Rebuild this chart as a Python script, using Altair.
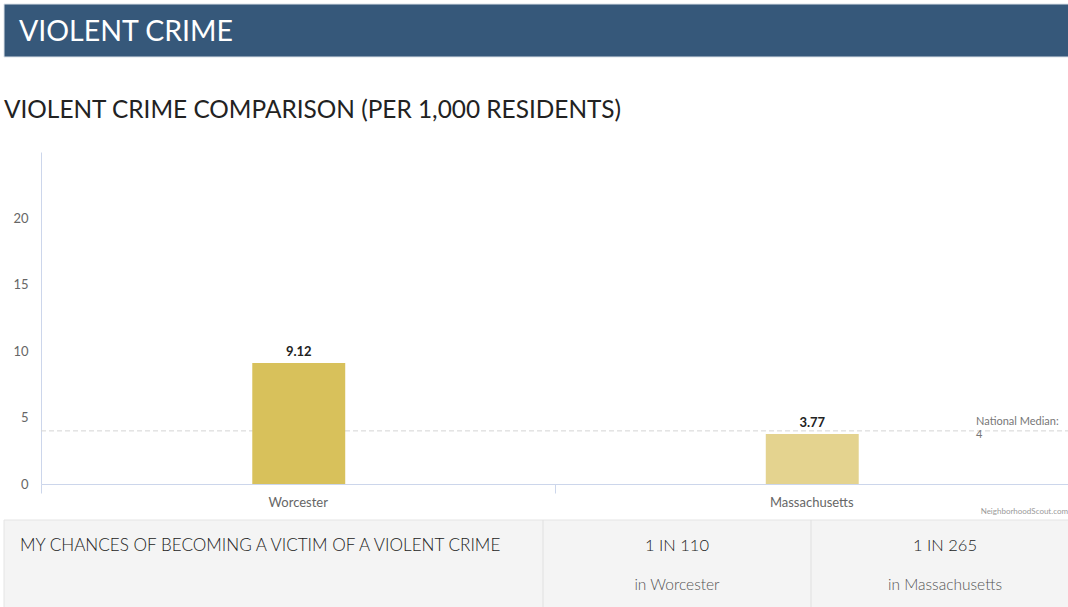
import altair as alt
import pandas as pd

# ---- data ----
categories = ["Worcester", "Massachusetts"]
violent_rates = [9.12, 3.77]
bar_colors = ["#D8C15B", "#E4D38F"]
national_median = [4]
y_ticks = [0, 5, 10, 15, 20]
chance_labels = ["1 IN 110", "1 IN 265"]
place_labels = ["in Worcester", "in Massachusetts"]
header_text = "VIOLENT CRIME"
title_text = "VIOLENT CRIME COMPARISON (PER 1,000 RESIDENTS)"
table_question = "MY CHANCES OF BECOMING A VICTIM OF A VIOLENT CRIME"
median_label = "National Median:\n4"
credit_text = "NeighborhoodScout.com"

FONT = "Lato"

# ---- layout constants ----
PL, PT = 41, 152
W, H = 1027, 332
TOTAL_W, TOTAL_H = 1068, 607

bars_df = pd.DataFrame({"place": categories, "rate": violent_rates})
one = pd.DataFrame({"k": [0]})

x_enc = alt.X("place:N", sort=categories,
              scale=alt.Scale(paddingInner=0, paddingOuter=0),
              axis=alt.Axis(title=None, labelAngle=0, tickBand="extent",
                            domainColor="#ccd6eb", tickColor="#ccd6eb", tickSize=9,
                            labelPadding=3, labelColor="#666666", labelFontSize=13,
                            labelFont=FONT))
y_enc = alt.Y("rate:Q", scale=alt.Scale(domain=[0, 25], nice=False),
              axis=alt.Axis(title=None, values=y_ticks, ticks=False, grid=False,
                            domainColor="#ccd6eb", labelPadding=13,
                            labelColor="#666666", labelFontSize=13, labelFont=FONT))

bars = alt.Chart(bars_df).mark_bar(width=alt.RelativeBandSize(0.181), xOffset=1).encode(
    x=x_enc, y=y_enc,
    color=alt.Color("place:N", scale=alt.Scale(domain=categories, range=bar_colors), legend=None),
)

values = alt.Chart(bars_df).mark_text(
    baseline="bottom", dy=-4, dx=1, font=FONT, fontSize=13, fontWeight="bold", color="#222222"
).encode(x=alt.X("place:N", sort=categories), y="rate:Q", text=alt.Text("rate:Q", format=".2f"))

median_df = pd.DataFrame({"median": national_median})
median_rule = alt.Chart(median_df).mark_rule(
    color="#d4d4d4", strokeDash=[5, 3], strokeWidth=1
).encode(y="median:Q", x=alt.value(0), x2=alt.value(W))

median_text = alt.Chart(median_df).mark_text(
    align="left", baseline="top", dy=-15, font=FONT, fontSize=11, color="#777777",
    lineBreak="\n", lineHeight=13
).encode(y="median:Q", x=alt.value(935), text=alt.value(median_label))

credit = alt.Chart(one).mark_text(
    align="right", baseline="middle", font=FONT, fontSize=8, color="#999999"
).encode(x=alt.value(W), y=alt.value(512 - PT), text=alt.value(credit_text))

# header band
header_rect = alt.Chart(one).mark_rect(fill="#36587A", stroke="#dde3ea", strokeWidth=1).encode(
    x=alt.value(4 - PL), x2=alt.value(TOTAL_W - PL + 2),
    y=alt.value(4 - PT), y2=alt.value(57 - PT))
header_label = alt.Chart(one).mark_text(
    align="left", baseline="alphabetic", font=FONT, fontSize=28.5, color="#ffffff"
).encode(x=alt.value(19 - PL), y=alt.value(41 - PT), text=alt.value(header_text))

title = alt.Chart(one).mark_text(
    align="left", baseline="alphabetic", font=FONT, fontSize=24.4, color="#222222"
).encode(x=alt.value(4 - PL), y=alt.value(118 - PT), text=alt.value(title_text))

# table
table_rect = alt.Chart(one).mark_rect(fill="#f4f4f4", stroke="#e4e4e4", strokeWidth=1).encode(
    x=alt.value(4 - PL), x2=alt.value(TOTAL_W - PL + 2),
    y=alt.value(520 - PT), y2=alt.value(TOTAL_H - PT + 5))
divider_x = [543, 811]
dividers = [
    alt.Chart(one).mark_rule(color="#e0e0e0", strokeWidth=1).encode(
        x=alt.value(dx - PL), y=alt.value(520 - PT), y2=alt.value(TOTAL_H - PT + 5))
    for dx in divider_x
]
question = alt.Chart(one).mark_text(
    align="left", baseline="middle", font=FONT, fontSize=17.1, fontWeight=300, color="#222222"
).encode(x=alt.value(20 - PL), y=alt.value(546 - PT), text=alt.value(table_question))

col_centers = [677, 945]
col_layers = []
for i in range(len(categories)):
    col_layers.append(alt.Chart(one).mark_text(
        align="center", baseline="middle", font=FONT, fontSize=16.5, fontWeight=300, color="#222222"
    ).encode(x=alt.value(col_centers[i] - PL), y=alt.value(546 - PT),
             text=alt.value(chance_labels[i])))
    col_layers.append(alt.Chart(one).mark_text(
        align="center", baseline="middle", font=FONT, fontSize=15.5, fontWeight=300, color="#555555"
    ).encode(x=alt.value(col_centers[i] - PL), y=alt.value(585 - PT),
             text=alt.value(place_labels[i])))

chart = alt.layer(
    header_rect, header_label, title, median_rule, bars, values, median_text, credit,
    table_rect, *dividers, question, *col_layers
).resolve_scale(x="shared", y="shared").properties(
    width=W, height=H,
    padding={"left": PL, "top": PT, "right": TOTAL_W - PL - W, "bottom": TOTAL_H - PT - H},
    autosize=alt.AutoSizeParams(type="none"),
    background="#ffffff",
).configure_view(stroke=None)

chart.save("out.html", embed_options={"renderer": "svg", "actions": False})
